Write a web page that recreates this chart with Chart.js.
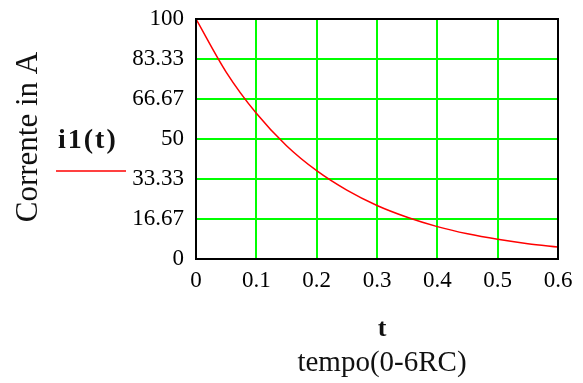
<!DOCTYPE html>
<html>
<head>
<meta charset="utf-8">
<script src="https://cdn.jsdelivr.net/npm/chart.js"></script>
<style>
  body { margin: 0; background: #fff; }
  #wrap { width: 583px; height: 383px; }
</style>
</head>
<body>
<div id="wrap"><canvas id="myChart" width="583" height="383"></canvas></div>
<script>
// values
const tValues = [0, 0.05, 0.1, 0.15, 0.2, 0.25, 0.3, 0.35, 0.4, 0.45, 0.5, 0.55, 0.6];
const i1Values = [100, 77.9, 60.7, 47.2, 36.8, 28.7, 22.3, 17.4, 13.5, 10.5, 8.2, 6.4, 5.0];
const xTicks = [0, 0.1, 0.2, 0.3, 0.4, 0.5, 0.6];
const yTicks = [0, 16.67, 33.33, 50, 66.67, 83.33, 100];

const serif = '"Liberation Serif", "Times New Roman", serif';

const mathcadText = {
    id: 'mathcadText',
    afterDraw(chart) {
        const ctx = chart.ctx;
        const a = chart.chartArea;
        ctx.save();
        // frame around plot
        ctx.strokeStyle = '#000';
        ctx.lineWidth = 2;
        ctx.strokeRect(a.left, a.top, a.right - a.left, a.bottom - a.top);

        ctx.fillStyle = '#111';
        // y axis title
        ctx.save();
        ctx.translate(37, 137);
        ctx.rotate(-Math.PI / 2);
        ctx.font = '31px ' + serif;
        ctx.textAlign = 'center';
        ctx.textBaseline = 'alphabetic';
        ctx.fillText('Corrente in A', 0, 0);
        ctx.restore();

        // legend
        ctx.font = 'bold 28px ' + serif;
        ctx.textAlign = 'left';
        ctx.letterSpacing = '2px';
        ctx.fillText('i1(t)', 58, 148);
        ctx.letterSpacing = '0px';
        ctx.strokeStyle = '#ff0000';
        ctx.lineWidth = 1.5;
        ctx.beginPath();
        ctx.moveTo(56, 171);
        ctx.lineTo(126, 171);
        ctx.stroke();

        // x axis titles
        ctx.textAlign = 'center';
        ctx.font = 'bold 26px ' + serif;
        ctx.fillText('t', 382, 336);
        ctx.font = '29px ' + serif;
        ctx.fillText('tempo(0-6RC)', 382, 371);
        ctx.restore();
    }
};

const ctx = document.getElementById('myChart').getContext('2d');
const myChart = new Chart(ctx, {
    type: 'line',
    data: {
        datasets: [{
            label: 'i1(t)',
            data: tValues.map((t, i) => ({ x: t, y: i1Values[i] })),
            borderColor: '#ff0000',
            borderWidth: 1.5,
            pointRadius: 0,
            cubicInterpolationMode: 'monotone',
            fill: false
        }]
    },
    options: {
        responsive: false,
        animation: false,
        layout: {
            padding: { top: 19, right: 25, left: 0, bottom: 0 }
        },
        scales: {
            x: {
                type: 'linear',
                min: 0,
                max: 0.6,
                afterBuildTicks: scale => { scale.ticks = xTicks.map(v => ({ value: v })); },
                afterFit: scale => { scale.height = 124; },
                grid: { color: '#00ff00', lineWidth: 2, drawTicks: false },
                border: { display: true, color: '#000', width: 2 },
                ticks: {
                    padding: 8,
                    maxRotation: 0,
                    color: '#000',
                    font: { family: serif, size: 23 },
                    callback: v => String(v)
                }
            },
            y: {
                min: 0,
                max: 100,
                afterBuildTicks: scale => { scale.ticks = yTicks.map(v => ({ value: v })); },
                afterFit: scale => {
                    scale.width = 196;
                    scale.paddingTop = 0;
                    scale.paddingBottom = 0;
                },
                grid: { color: '#00ff00', lineWidth: 2, drawTicks: false },
                border: { display: true, color: '#000', width: 2 },
                ticks: {
                    padding: 12,
                    color: '#000',
                    font: { family: serif, size: 23 },
                    callback: v => String(v)
                }
            }
        },
        plugins: {
            legend: { display: false },
            tooltip: { enabled: false }
        }
    },
    plugins: [mathcadText]
});
</script>
</body>
</html>
